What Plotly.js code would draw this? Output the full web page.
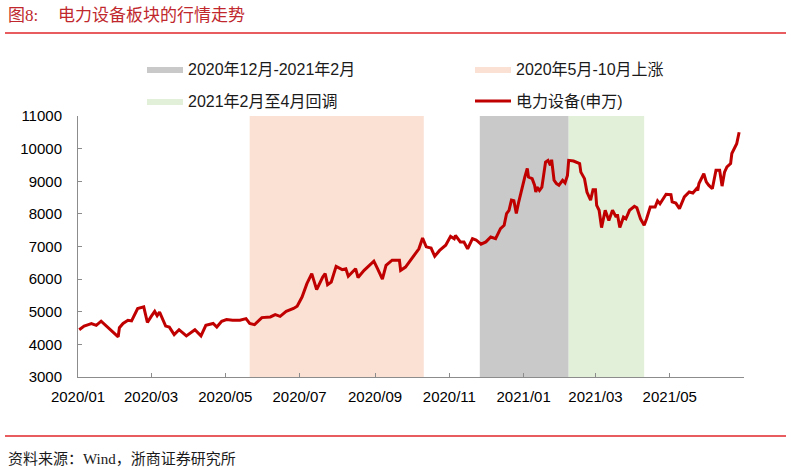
<!DOCTYPE html>
<html>
<head>
<meta charset="utf-8">
<script src="https://cdn.plot.ly/plotly-3.0.1.min.js"></script>
<style>
  html, body { margin: 0; padding: 0; background: #ffffff; }
  #chart { width: 791px; height: 470px; }
</style>
</head>
<body>
<div id="chart"></div>
<script>
// 申万电力设备指数 daily close (2020-01 ~ 2021-06)
const dates = [
  '2020-01-02','2020-01-06','2020-01-09','2020-01-12','2020-01-16','2020-01-20',
  '2020-02-03','2020-02-04','2020-02-07','2020-02-11','2020-02-14','2020-02-19','2020-02-24','2020-02-27',
  '2020-03-01','2020-03-04','2020-03-06','2020-03-08','2020-03-13','2020-03-16','2020-03-20','2020-03-24','2020-03-30',
  '2020-04-06','2020-04-11','2020-04-15','2020-04-21','2020-04-24','2020-04-28',
  '2020-05-02','2020-05-07','2020-05-13','2020-05-18','2020-05-21','2020-05-25','2020-05-31',
  '2020-06-07','2020-06-11','2020-06-15','2020-06-20','2020-06-26','2020-06-29',
  '2020-07-03','2020-07-07','2020-07-11','2020-07-15','2020-07-20','2020-07-22','2020-07-24','2020-07-27','2020-07-31',
  '2020-08-05','2020-08-08','2020-08-10','2020-08-16','2020-08-18','2020-08-23','2020-08-26','2020-08-31',
  '2020-09-03','2020-09-07','2020-09-10','2020-09-15','2020-09-21','2020-09-22','2020-09-26','2020-09-30',
  '2020-10-04','2020-10-07','2020-10-10','2020-10-13','2020-10-17','2020-10-20','2020-10-24','2020-10-29',
  '2020-11-02','2020-11-05','2020-11-06','2020-11-10','2020-11-13','2020-11-16','2020-11-20','2020-11-23','2020-11-27',
  '2020-12-01','2020-12-05','2020-12-09','2020-12-13','2020-12-16','2020-12-18','2020-12-20','2020-12-22','2020-12-24','2020-12-26','2020-12-28',
  '2021-01-02','2021-01-04','2021-01-05','2021-01-08','2021-01-10','2021-01-11','2021-01-12','2021-01-14','2021-01-16','2021-01-19',
  '2021-01-21','2021-01-23','2021-01-24','2021-01-26','2021-01-28','2021-01-30',
  '2021-02-02','2021-02-04','2021-02-06','2021-02-07','2021-02-11','2021-02-16','2021-02-17','2021-02-20','2021-02-22','2021-02-24','2021-02-25','2021-02-27',
  '2021-03-01','2021-03-02','2021-03-04','2021-03-06','2021-03-09','2021-03-12','2021-03-15','2021-03-18','2021-03-19','2021-03-21','2021-03-24','2021-03-26','2021-03-29',
  '2021-04-02','2021-04-04','2021-04-07','2021-04-10','2021-04-12','2021-04-15','2021-04-19','2021-04-21','2021-04-23','2021-04-28',
  '2021-05-02','2021-05-03','2021-05-06','2021-05-09','2021-05-13','2021-05-17','2021-05-20','2021-05-23','2021-05-24','2021-05-25','2021-05-29','2021-05-31',
  '2021-06-02','2021-06-05','2021-06-08','2021-06-11','2021-06-13','2021-06-15','2021-06-17','2021-06-20','2021-06-21','2021-06-24','2021-06-25','2021-06-27'
];
const values = [
  4450,4560,4600,4640,4585,4710,
  4230,4510,4640,4740,4720,5100,5150,4670,
  4850,5010,4880,4990,4560,4530,4300,4450,4260,
  4450,4260,4585,4640,4530,4710,
  4760,4740,4740,4790,4640,4605,4820,
  4840,4910,4860,5010,5100,5170,
  5450,5860,6170,5680,6065,6170,5830,5910,6390,
  6290,6320,6090,6320,6050,6270,6370,6550,
  6320,6000,6420,6580,6580,6270,6370,6580,
  6780,6930,7260,6990,6950,6700,6880,7040,
  7310,7240,7340,7140,7140,6930,7240,7200,7070,
  7140,7290,7240,7550,7650,8010,8110,8420,8400,8010,8370,
  9130,9390,9130,9080,8880,8670,8820,8720,8820,9590,
  9640,9490,9660,9030,8930,8880,
  9030,8950,9180,9640,9620,9540,9280,9080,8670,8470,8420,8740,
  8740,8260,8110,7580,8110,7800,8110,7900,7990,7580,7900,7850,8110,
  8230,8190,7850,7650,7850,8210,8210,8400,8310,8600,
  8590,8370,8330,8160,8520,8670,8640,8770,8720,8930,9230,8980,
  8880,8770,9340,9340,8850,9280,9440,9540,9850,10050,10150,10500
];
const seriesName = '电力设备(申万)';

// Highlighted market phases
const phaseNames  = ['2020年12月-2021年2月', '2020年5月-10月上涨', '2021年2月至4月回调'];
const phaseStarts = ['2020-11-26', '2020-05-21', '2021-02-07'];
const phaseEnds   = ['2021-02-07', '2020-10-11', '2021-04-10'];

const yMin = 3000, yMax = 11000;
const xTickVals = ['2020-01-01','2020-03-01','2020-05-01','2020-07-01','2020-09-01','2020-11-01','2021-01-01','2021-03-01','2021-05-01'];
const xTickText = ['2020/01','2020/03','2020/05','2020/07','2020/09','2020/11','2021/01','2021/03','2021/05'];

const phaseColors = ['#c9c9c9', '#fae1d3', '#e2efd9'];

// page geometry (pixels) used to place paper-referenced decorations
const W = 791, H = 470;
const M = { l: 78, r: 47, t: 116, b: 93 };
const PW = W - M.l - M.r, PH = H - M.t - M.b;
const px = x => (x - M.l) / PW;
const py = y => (H - M.b - y) / PH;

const font = '"Liberation Sans", Arial, "Noto Sans CJK SC", sans-serif';
const serif = '"Liberation Serif", "Noto Sans CJK SC", serif';

// one legend box per entry, laid out as a 2 x 2 grid
const legendIds  = ['legend', 'legend2', 'legend3', 'legend4'];
const legendSlot = [[142, 69], [470, 69], [142, 101], [470, 101]];
const phaseSlot  = [0, 1, 2];   // gray, peach, green
const lineSlot   = 3;

const phaseOrder = [1, 0, 2]; // peach drawn first, then gray, then green
const traces = phaseOrder.map(i => ({
  type: 'scatter',
  mode: 'lines',
  name: phaseNames[i],
  x: [phaseStarts[i], phaseStarts[i], phaseEnds[i], phaseEnds[i], phaseStarts[i]],
  y: [yMin, yMax, yMax, yMin, yMin],
  fill: 'toself',
  fillcolor: phaseColors[i],
  line: { width: 0, color: phaseColors[i] },
  hoverinfo: 'skip',
  legend: legendIds[phaseSlot[i]]
}));

traces.push({
  type: 'scatter',
  mode: 'lines',
  name: seriesName,
  x: dates,
  y: values,
  line: { color: '#c00000', width: 3 },
  legend: legendIds[lineSlot]
});

const legendBox = slot => ({
  orientation: 'h',
  xanchor: 'left',
  yanchor: 'middle',
  x: px(legendSlot[slot][0]),
  y: py(legendSlot[slot][1]),
  itemwidth: 36,
  bgcolor: 'rgba(0,0,0,0)',
  font: { family: font, size: 16, color: '#1a1a1a' }
});

const layout = {
  width: W,
  height: H,
  margin: M,
  paper_bgcolor: '#ffffff',
  plot_bgcolor: '#ffffff',
  showlegend: true,
  legend: legendBox(0),
  legend2: legendBox(1),
  legend3: legendBox(2),
  legend4: legendBox(3),
  xaxis: {
    type: 'date',
    range: ['2020-01-01', '2021-07-01'],
    tickvals: xTickVals,
    ticktext: xTickText,
    showgrid: false,
    zeroline: false,
    showline: true,
    linecolor: '#8c8c8c',
    linewidth: 1,
    ticks: 'inside',
    ticklen: 4,
    tickcolor: '#8c8c8c',
    ticklabelstandoff: 6,
    tickfont: { family: font, size: 15, color: '#000000' }
  },
  yaxis: {
    range: [yMin, yMax],
    dtick: 1000,
    tick0: 3000,
    tickformat: 'd',
    showgrid: false,
    zeroline: false,
    showline: true,
    linecolor: '#8c8c8c',
    linewidth: 1,
    ticks: 'inside',
    ticklen: 4,
    tickcolor: '#8c8c8c',
    ticklabelstandoff: 12,
    tickfont: { family: font, size: 15, color: '#000000' }
  },
  shapes: [
    { type: 'line', xref: 'paper', yref: 'paper', x0: px(5), x1: px(786), y0: py(33), y1: py(33),
      line: { color: '#e0262b', width: 1.5 } },
    { type: 'line', xref: 'paper', yref: 'paper', x0: px(5), x1: px(786), y0: py(436), y1: py(436),
      line: { color: '#e0262b', width: 1.5 } }
  ],
  annotations: [
    { xref: 'paper', yref: 'paper', x: px(6), y: py(15), xanchor: 'left', yanchor: 'middle',
      text: '图8:', showarrow: false, font: { family: serif, size: 17, color: '#c0282d' } },
    { xref: 'paper', yref: 'paper', x: px(56), y: py(15), xanchor: 'left', yanchor: 'middle',
      text: '电力设备板块的行情走势', showarrow: false, font: { family: serif, size: 17, color: '#c0282d' } },
    { xref: 'paper', yref: 'paper', x: px(6), y: py(459), xanchor: 'left', yanchor: 'middle',
      text: '资料来源：Wind，浙商证券研究所', showarrow: false, font: { family: serif, size: 15, color: '#1a1a1a' } }
  ]
};

Plotly.newPlot('chart', traces, layout, { displayModeBar: false, staticPlot: true });
</script>
</body>
</html>
